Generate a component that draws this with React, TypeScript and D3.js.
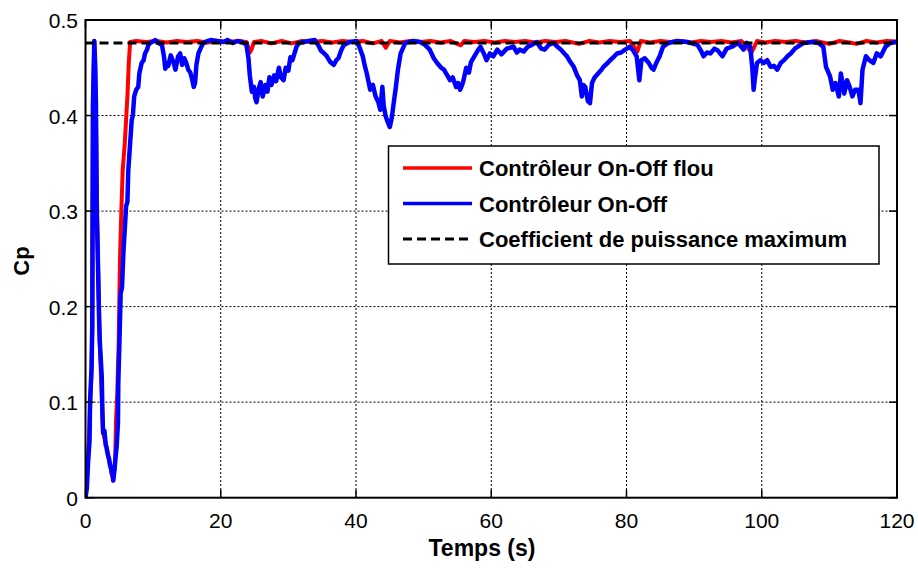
import React from "react";
import * as d3 from "d3";

const xTicks = [0, 20, 40, 60, 80, 100, 120];
const yTicks = [0, 0.1, 0.2, 0.3, 0.4, 0.5];
const yTickLabels = ["0", "0.1", "0.2", "0.3", "0.4", "0.5"];
const cpMax = 0.476;
const legendLabels = ["Contrôleur On-Off flou", "Contrôleur On-Off", "Coefficient de puissance maximum"];

const blueSeries: [number, number][] = [
  [0,0.0],[0.2,0.01],[0.4,0.04],[0.6,0.06],[0.67,0.1],[0.9,0.136],[1.0,0.18],[1.05,0.3],[1.1,0.41],[1.3,0.478],[1.45,0.45],[1.55,0.41],[1.65,0.3],[1.8,0.26],[2.0,0.19],[2.1,0.165],[2.3,0.14],[2.4,0.127],[2.5,0.09],[2.6,0.068],[2.8,0.07],[3.0,0.055],[3.1,0.053],[3.3,0.045],[3.5,0.04],[3.6,0.035],[3.8,0.03],[3.9,0.025],[4.0,0.03],[4.1,0.018],[4.3,0.03],[4.4,0.039],[4.6,0.053],[4.8,0.078],[4.85,0.12],[5.0,0.158],[5.2,0.214],[5.4,0.22],[5.6,0.256],[5.8,0.28],[6.0,0.305],[6.2,0.31],[6.33,0.343],[6.6,0.371],[6.83,0.395],[7.0,0.4],[7.2,0.42],[7.5,0.427],[7.8,0.43],[7.96,0.444],[8.3,0.455],[8.6,0.458],[8.8,0.465],[9.1,0.469],[9.3,0.474],[9.6,0.476],[10.3,0.479],[10.8,0.476],[11.3,0.474],[11.6,0.462],[11.8,0.449],[12.1,0.455],[12.25,0.452],[12.6,0.463],[13.0,0.456],[13.3,0.448],[13.7,0.462],[14.0,0.465],[14.3,0.453],[14.6,0.46],[14.9,0.455],[15.2,0.448],[15.5,0.445],[15.8,0.437],[16.0,0.43],[16.2,0.434],[16.4,0.453],[16.7,0.465],[17.0,0.47],[17.4,0.476],[17.7,0.477],[18.5,0.479],[19.5,0.478],[20.4,0.477],[21,0.479],[21.8,0.476],[22.5,0.478],[23.2,0.477],[23.8,0.474],[24.1,0.46],[24.3,0.442],[24.6,0.425],[24.9,0.43],[25.1,0.418],[25.3,0.414],[25.6,0.428],[25.9,0.435],[26.2,0.42],[26.6,0.432],[26.9,0.425],[27.2,0.44],[27.5,0.432],[27.9,0.442],[28.2,0.436],[28.6,0.45],[28.9,0.44],[29.3,0.437],[29.6,0.45],[30.0,0.447],[30.3,0.461],[30.6,0.458],[31.2,0.472],[31.6,0.476],[32.2,0.477],[33.0,0.478],[33.9,0.479],[34.4,0.474],[34.8,0.468],[35.3,0.465],[35.7,0.462],[36.2,0.456],[36.7,0.453],[37.1,0.458],[37.4,0.46],[37.8,0.468],[38.2,0.474],[39.1,0.477],[40.1,0.478],[40.6,0.47],[41.0,0.462],[41.3,0.452],[41.6,0.444],[42.1,0.427],[42.5,0.432],[42.9,0.42],[43.3,0.414],[43.6,0.406],[43.9,0.43],[44.1,0.41],[44.4,0.399],[44.7,0.393],[45.0,0.388],[45.3,0.398],[45.5,0.409],[45.9,0.43],[46.2,0.448],[46.6,0.465],[47.3,0.476],[48.5,0.478],[49.5,0.477],[50.2,0.474],[50.9,0.469],[51.5,0.46],[52.0,0.455],[52.6,0.45],[53.0,0.448],[53.5,0.442],[53.9,0.437],[54.3,0.44],[54.8,0.43],[55.1,0.434],[55.4,0.427],[55.7,0.432],[55.9,0.437],[56.3,0.45],[56.7,0.445],[57.0,0.456],[57.5,0.462],[58.0,0.468],[58.4,0.472],[58.9,0.465],[59.3,0.458],[59.8,0.465],[60.3,0.462],[60.9,0.469],[61.5,0.464],[62.3,0.47],[63.3,0.472],[63.8,0.466],[64.2,0.469],[64.8,0.467],[65.4,0.472],[66.0,0.474],[66.7,0.477],[67.4,0.47],[67.9,0.469],[68.5,0.474],[69.2,0.476],[69.8,0.472],[70.3,0.469],[70.8,0.465],[71.2,0.462],[71.7,0.456],[72.2,0.451],[72.7,0.442],[73.1,0.437],[73.4,0.42],[73.6,0.432],[73.9,0.43],[74.3,0.415],[74.6,0.413],[74.9,0.434],[75.3,0.44],[75.8,0.444],[76.3,0.448],[76.6,0.451],[77.2,0.455],[77.6,0.458],[78.2,0.462],[78.6,0.465],[79.2,0.466],[79.8,0.469],[80.5,0.472],[81.0,0.468],[81.5,0.462],[81.9,0.437],[82.2,0.458],[82.7,0.46],[83.3,0.455],[83.7,0.45],[84.0,0.448],[84.4,0.455],[84.9,0.462],[85.4,0.472],[86.2,0.476],[87.5,0.478],[89.0,0.477],[90.5,0.474],[91.0,0.468],[91.4,0.462],[91.9,0.466],[92.4,0.465],[93.0,0.47],[93.5,0.468],[94.2,0.462],[94.8,0.47],[95.6,0.472],[96.5,0.476],[97.3,0.469],[97.8,0.476],[98.3,0.472],[98.6,0.45],[98.8,0.427],[99.0,0.44],[99.3,0.455],[99.8,0.458],[100.3,0.455],[100.8,0.458],[101.3,0.451],[101.8,0.452],[102.3,0.448],[102.8,0.455],[103.3,0.458],[103.8,0.462],[104.3,0.465],[104.9,0.47],[105.3,0.472],[106.2,0.476],[107.5,0.477],[108.4,0.476],[109.1,0.472],[109.5,0.451],[110.1,0.441],[110.5,0.427],[110.9,0.434],[111.4,0.42],[111.7,0.444],[112.2,0.423],[112.6,0.437],[113.0,0.43],[113.4,0.42],[113.8,0.427],[114.3,0.427],[114.6,0.413],[114.9,0.448],[115.4,0.462],[115.9,0.458],[116.5,0.455],[117.0,0.465],[117.6,0.462],[118.3,0.472],[119.0,0.476],[120,0.477]
];

const redSeries: [number, number][] = [
  [0,0],[0.4,0.04],[0.9,0.136],[1.0,0.18],[1.1,0.41],[1.3,0.478],[1.5,0.42],[1.8,0.26],[2.1,0.165],[2.6,0.068],[3.1,0.053],[3.9,0.025],[4.1,0.018],[4.4,0.04],[4.5,0.078],[4.7,0.11],[4.9,0.16],[5.1,0.25],[5.3,0.3],[5.5,0.343],[5.8,0.37],[6.0,0.395],[6.2,0.42],[6.4,0.455],[6.6,0.477],
  [7.5,0.478],[9,0.477],[10.5,0.478],[12,0.4765],[13.5,0.478],[15,0.477],[16.5,0.478],[18,0.4765],[19.5,0.478],[21,0.477],[22.5,0.478],[23.8,0.477],[24.3,0.466],[24.6,0.47],[24.9,0.477],[26,0.478],[27.5,0.4755],[29,0.478],[30.5,0.4755],[32,0.478],[33.5,0.477],[35,0.478],[36.5,0.4765],[38,0.478],[39.5,0.477],[41,0.478],[42.5,0.4755],[43.8,0.478],[44.4,0.471],[45,0.478],[46.5,0.4765],[48,0.478],[49.5,0.477],[51,0.478],[52.5,0.4765],[54,0.478],[55.5,0.4735],[56,0.478],[57.5,0.477],[59,0.478],[60.5,0.4765],[62,0.478],[63.5,0.477],[65,0.478],[66.5,0.4765],[68,0.478],[69.5,0.477],[71,0.478],[73,0.475],[74.5,0.478],[76,0.4765],[77.5,0.478],[79,0.477],[80.5,0.478],[81.6,0.467],[82.1,0.478],[83.5,0.4765],[85,0.478],[86.5,0.477],[88,0.478],[89.5,0.4765],[91,0.478],[92.5,0.477],[94,0.478],[95.5,0.4765],[97,0.478],[98.5,0.466],[98.9,0.472],[99.3,0.478],[100.5,0.4765],[102,0.478],[103.5,0.477],[105,0.478],[106.5,0.4765],[108,0.478],[110,0.475],[111.5,0.478],[113,0.4765],[114,0.475],[115.5,0.478],[117,0.4765],[118.5,0.478],[120,0.4775]
];

const FONT = "'Liberation Sans', Arial, Helvetica, sans-serif";

export default function App() {
  const left = 85.5, right = 897, top = 20, bottom = 497.7;
  const x = d3.scaleLinear().domain([0, 120]).range([left, right]);
  const y = d3.scaleLinear().domain([0, 0.5]).range([bottom, top]);
  const line = d3.line<[number, number]>().x(d => x(d[0])).y(d => y(d[1]));
  const maxLine: [number, number][] = [[0, cpMax], [120, cpMax]];

  const lg = { x: 388.5, y: 146, w: 490.5, h: 118 };
  const rowY = [168, 203.5, 239];
  const legendStyles = [
    { stroke: "#ff0000", dash: undefined as string | undefined, w: 3.5 },
    { stroke: "#0000ff", dash: undefined as string | undefined, w: 3.5 },
    { stroke: "#000000", dash: "9,5", w: 3 },
  ];

  return (
    <svg width={918} height={568} style={{ position: "absolute", left: 0, top: 0, background: "#fff" }} fontFamily={FONT}>
      <rect x={0} y={0} width={918} height={568} fill="#fff" />
      <defs>
        <clipPath id="plotClip">
          <rect x={left} y={top - 4} width={right - left} height={bottom - top + 4} />
        </clipPath>
      </defs>
      {xTicks.slice(1, -1).map(t => (
        <line key={"gx" + t} x1={x(t)} x2={x(t)} y1={top} y2={bottom} stroke="#000" strokeWidth={1} strokeDasharray="2,2" />
      ))}
      {yTicks.slice(1, -1).map(t => (
        <line key={"gy" + t} x1={left} x2={right} y1={y(t)} y2={y(t)} stroke="#000" strokeWidth={1} strokeDasharray="2,2" />
      ))}
      <g clipPath="url(#plotClip)">
        <path d={line(redSeries) || ""} fill="none" stroke="#ff0000" strokeWidth={4} strokeLinejoin="round" />
        <path d={line(blueSeries) || ""} fill="none" stroke="#0000ff" strokeWidth={4.5} strokeLinejoin="round" />
        <path d={line(maxLine) || ""} fill="none" stroke="#000" strokeWidth={3} strokeDasharray="9,5" />
      </g>
      {xTicks.map(t => (
        <g key={"tx" + t}>
          <line x1={x(t)} x2={x(t)} y1={bottom} y2={bottom - 8} stroke="#000" strokeWidth={1.5} />
          <line x1={x(t)} x2={x(t)} y1={top} y2={top + 8} stroke="#000" strokeWidth={1.5} />
          <text x={x(t)} y={bottom + 30} fontSize={21} textAnchor="middle" fill="#000">{t}</text>
        </g>
      ))}
      {yTicks.map((t, i) => (
        <g key={"ty" + t}>
          <line x1={left} x2={left + 8} y1={y(t)} y2={y(t)} stroke="#000" strokeWidth={1.5} />
          <line x1={right} x2={right - 8} y1={y(t)} y2={y(t)} stroke="#000" strokeWidth={1.5} />
          <text x={78} y={y(t) + 8} fontSize={21} textAnchor="end" fill="#000">{yTickLabels[i]}</text>
        </g>
      ))}
      <rect x={left} y={top} width={right - left} height={bottom - top} fill="none" stroke="#000" strokeWidth={2} />
      <text x={482} y={556} fontSize={23} fontWeight="bold" textAnchor="middle" fill="#000">Temps (s)</text>
      <text transform={`translate(29,261) rotate(-90)`} fontSize={22} fontWeight="bold" textAnchor="middle" fill="#000">Cp</text>
      <rect x={lg.x} y={lg.y} width={lg.w} height={lg.h} fill="#fff" stroke="#000" strokeWidth={1.5} />
      {legendLabels.map((lab, i) => (
        <g key={lab}>
          <line x1={403} x2={472} y1={rowY[i]} y2={rowY[i]} stroke={legendStyles[i].stroke} strokeWidth={legendStyles[i].w} strokeDasharray={legendStyles[i].dash} />
          <text x={479} y={rowY[i] + 8} fontSize={22} fontWeight="bold" fill="#000">{lab}</text>
        </g>
      ))}
    </svg>
  );
}
